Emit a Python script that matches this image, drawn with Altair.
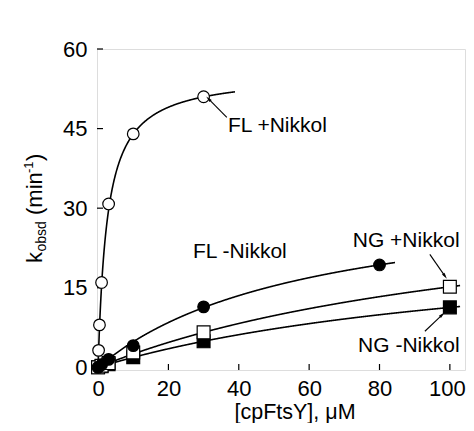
import math
import altair as alt
import pandas as pd

# ---------------- data ----------------
fl_nik_x = [0.15, 0.4, 1, 3, 10, 30]
fl_nik_y = [3.2, 8.0, 16.0, 30.8, 44.0, 51.0]
fl_x = [0, 1, 3, 10, 30, 80]
fl_y = [0.0, 0.5, 1.5, 4.1, 11.4, 19.3]
ngn_x = [0, 1, 3, 10, 30, 100]
ngn_y = [0.0, 0.3, 0.8, 2.8, 6.6, 15.2]
ng_x = [0, 1, 3, 10, 30, 100]
ng_y = [0.0, 0.2, 0.6, 1.9, 4.9, 11.3]

# hyperbolic fit parameters: kmax, K, end of drawn curve
fit_names = ["FL +Nikkol", "FL -Nikkol", "NG +Nikkol", "NG -Nikkol"]
fit_kmax = [55.4, 33.8, 34.3, 25.4]
fit_K = [2.6, 60.0, 126.0, 125.0]
fit_end = [39.0, 84.5, 103.0, 103.0]

# annotations
ann_text = ["FL +Nikkol", "FL -Nikkol", "NG +Nikkol", "NG -Nikkol"]
ann_x = [36.9, 27.0, 72.4, 73.9]
ann_y = [44.4, 20.6, 22.6, 2.8]
arr_x1 = [36.6, 94.3, 92.9]
arr_y1 = [47.1, 21.3, 6.8]
arr_x2 = [31.4, 98.6, 97.8]
arr_y2 = [50.6, 17.2, 9.9]

x_ticks = [0, 20, 40, 60, 80, 100]
y_ticks = [0, 15, 30, 45, 60]

W, H = 368, 321
XD = [-0.3, 104.3]
YD = [-0.5, 60]
xs = alt.Scale(domain=XD, nice=False, zero=False)
ys = alt.Scale(domain=YD, nice=False, zero=False)
FONT = "Liberation Sans"

xax = alt.Axis(values=x_ticks, ticks=False, domain=False, grid=False, labelFontSize=22,
               labelPadding=8, labelColor="black", title=None, labelFont=FONT,
               labelOffset={"condition": {"test": "datum.value == 100", "value": -3}, "value": 0})
yax = alt.Axis(values=y_ticks, ticks=False, domain=False, grid=False, labelFontSize=22,
               labelPadding=10, labelColor="black", title=None, labelFont=FONT)

layers = []

# axes + inward ticks
xt = pd.DataFrame({"x": x_ticks})
layers.append(alt.Chart(xt).mark_rule(color="black", strokeWidth=1.2).encode(
    x=alt.X("x:Q", scale=xs, axis=xax), y=alt.value(H), y2=alt.value(H - 6)))
yt = pd.DataFrame({"y": y_ticks})
layers.append(alt.Chart(yt).mark_rule(color="black", strokeWidth=1.2).encode(
    y=alt.Y("y:Q", scale=ys, axis=yax), x=alt.value(0), x2=alt.value(6)))

# fitted curves
for kmax, K, end in zip(fit_kmax, fit_K, fit_end):
    layers.append(
        alt.Chart(alt.sequence(0, end, 0.1, as_="x"))
        .transform_calculate(y=f"{kmax}*datum.x/({K}+datum.x)")
        .mark_line(color="black", strokeWidth=1.6, clip=False)
        .encode(x=alt.X("x:Q", scale=xs), y=alt.Y("y:Q", scale=ys))
    )

def pts(xv, yv, shape, filled, size):
    df = pd.DataFrame({"x": xv, "y": yv})
    return alt.Chart(df).mark_point(
        shape=shape, filled=True, fill="black" if filled else "white",
        stroke="black", strokeWidth=1.2, size=size, opacity=1, clip=False
    ).encode(x=alt.X("x:Q", scale=xs), y=alt.Y("y:Q", scale=ys))

layers.append(pts(ng_x, ng_y, "square", True, 165))
layers.append(pts(ngn_x, ngn_y, "square", False, 165))
layers.append(pts(fl_x, fl_y, "circle", True, 135))
layers.append(pts(fl_nik_x, fl_nik_y, "circle", False, 135))

# arrows
arr = pd.DataFrame({"x": arr_x1, "y": arr_y1, "x2": arr_x2, "y2": arr_y2})
layers.append(alt.Chart(arr).mark_rule(color="black", strokeWidth=1.1).encode(
    x=alt.X("x:Q", scale=xs), y=alt.Y("y:Q", scale=ys), x2="x2:Q", y2="y2:Q"))
sx = W / (XD[1] - XD[0])
sy = H / (YD[1] - YD[0])
angles = []
for a, b, c, d in zip(arr_x1, arr_y1, arr_x2, arr_y2):
    dx = (c - a) * sx
    dy = -(d - b) * sy
    angles.append(math.degrees(math.atan2(dx, -dy)) % 360)
heads = pd.DataFrame({"x": arr_x2, "y": arr_y2, "ang": angles})
layers.append(alt.Chart(heads).mark_point(
    shape="M0,-1L0.45,0.9L-0.45,0.9Z", filled=True, color="black", size=45, opacity=1,
    clip=False).encode(
    x=alt.X("x:Q", scale=xs), y=alt.Y("y:Q", scale=ys),
    angle=alt.Angle("ang:Q", scale=None)))

ann = pd.DataFrame({"t": ann_text, "x": ann_x, "y": ann_y})
layers.append(alt.Chart(ann).mark_text(
    align="left", baseline="alphabetic", fontSize=21, font=FONT, color="black").encode(
    x=alt.X("x:Q", scale=xs), y=alt.Y("y:Q", scale=ys), text="t:N"))

one = pd.DataFrame({"d": [0]})

def label(txt, x, y, size, dx=0, dy=0, angle=0, align="left"):
    return alt.Chart(one).mark_text(
        text=txt, fontSize=size, font=FONT, color="black", align=align,
        baseline="alphabetic", angle=angle, dx=dx, dy=dy).encode(
        x=alt.value(x), y=alt.value(y))

# x title
layers.append(label("[cpFtsY], \u03bcM", 198, 370, 21.5, align="center"))
# y title with subscript / superscript (rotated)
YX, YY = -55, 214
layers.append(label("k", YX, YY, 22, angle=270))
layers.append(label("obsd", YX, YY, 14, dx=11.5, dy=4, angle=270))
layers.append(label("(min", YX, YY, 22, dx=48, angle=270))
layers.append(label("-1", YX, YY, 13, dx=90, dy=-9, angle=270))
layers.append(label(")", YX, YY, 22, dx=102, angle=270))

chart = alt.layer(*layers).properties(
    width=W, height=H, autosize="none",
    padding={"left": 89, "top": 41, "right": 1, "bottom": 53},
).configure_view(stroke="black", strokeWidth=1.6).configure(background="white")

chart.save("out.html", embed_options={"renderer": "svg", "actions": False})
